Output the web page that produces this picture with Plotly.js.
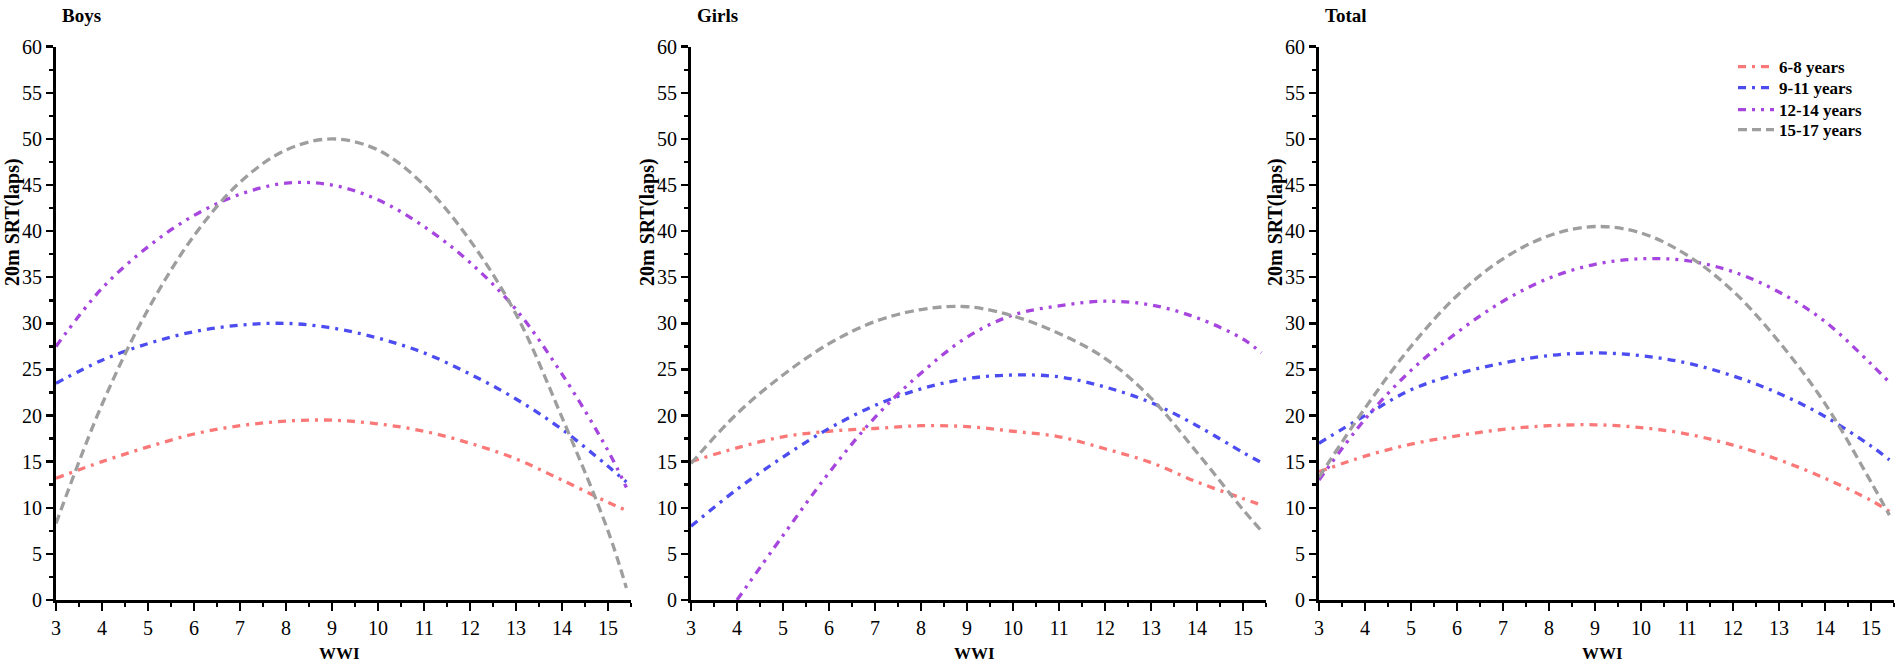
<!DOCTYPE html>
<html>
<head>
<meta charset="utf-8">
<script src="https://cdn.plot.ly/plotly-3.0.1.min.js"></script>
<style>
  html, body { margin: 0; padding: 0; background: #ffffff; }
  #chart { width: 1902px; height: 665px; }
</style>
</head>
<body>
<div id="chart"></div>
<script>
// WWI positions where each curve was read
const wwi = [3, 4, 5, 6, 7, 8, 9, 10, 11, 12, 13, 14, 15, 15.4];
const wwiFrom4 = [4, 5, 6, 7, 8, 9, 10, 11, 12, 13, 14, 15, 15.4];

const groups = ['6-8 years', '9-11 years', '12-14 years', '15-17 years'];
const panels = ['Boys', 'Girls', 'Total'];

// Boys
const boys_6_8   = [13.2, 15.0, 16.6, 18.0, 18.9, 19.4, 19.5, 19.1, 18.3, 17.0, 15.3, 13.0, 10.6, 9.7];
const boys_9_11  = [23.5, 26.0, 27.8, 29.1, 29.8, 30.0, 29.5, 28.4, 26.8, 24.5, 21.8, 18.5, 14.5, 12.8];
const boys_12_14 = [27.5, 33.8, 38.3, 41.7, 44.0, 45.2, 45.0, 43.4, 40.5, 36.6, 31.5, 24.5, 16.2, 12.2];
const boys_15_17 = [8.3, 21.2, 31.5, 39.5, 45.3, 48.8, 50.0, 48.8, 45.0, 39.0, 31.0, 19.8, 7.5, 1.3];

// Girls
const girls_6_8   = [15.0, 16.5, 17.7, 18.3, 18.6, 18.9, 18.8, 18.3, 17.7, 16.4, 14.9, 12.8, 11.0, 10.3];
const girls_9_11  = [8.0, 12.0, 15.5, 18.6, 21.1, 22.9, 24.0, 24.4, 24.2, 23.1, 21.4, 18.9, 16.0, 14.9];
const girls_12_14 = [0.0, 7.0, 13.8, 19.8, 24.6, 28.5, 30.9, 31.9, 32.4, 32.0, 30.6, 28.3, 26.8]; // starts at WWI 4
const girls_15_17 = [14.8, 20.2, 24.4, 27.8, 30.2, 31.5, 31.8, 30.8, 28.9, 26.2, 21.9, 16.0, 9.8, 7.5];

// Total
const total_6_8   = [13.9, 15.6, 16.9, 17.8, 18.5, 18.9, 19.0, 18.7, 18.0, 16.8, 15.2, 13.2, 10.8, 9.6];
const total_9_11  = [17.0, 20.0, 22.8, 24.5, 25.7, 26.5, 26.8, 26.5, 25.7, 24.3, 22.4, 19.9, 16.7, 15.2];
const total_12_14 = [13.0, 19.6, 24.9, 29.0, 32.4, 34.9, 36.4, 37.0, 36.8, 35.6, 33.4, 30.2, 25.6, 23.6];
const total_15_17 = [13.3, 20.8, 27.5, 33.0, 37.0, 39.5, 40.5, 39.8, 37.4, 33.5, 28.0, 21.3, 12.8, 9.2];

const yTicks = [0, 5, 10, 15, 20, 25, 30, 35, 40, 45, 50, 55, 60];
const xTicks = [3, 4, 5, 6, 7, 8, 9, 10, 11, 12, 13, 14, 15];

const styles = [
  { color: 'rgb(250,120,120)', dash: '8px,6px,3px,6px' },
  { color: 'rgb(76,76,240)',   dash: '8px,6px,3px,6px' },
  { color: 'rgb(166,70,222)',  dash: '8px,6px,3px,6px,3px,6px' },
  { color: 'rgb(158,158,158)', dash: '9px,5px' }
];

const panelData = [
  [boys_6_8, boys_9_11, boys_12_14, boys_15_17],
  [girls_6_8, girls_9_11, girls_12_14, girls_15_17],
  [total_6_8, total_9_11, total_12_14, total_15_17]
];

const legendIds = ['legend', 'legend2', 'legend3', 'legend4'];

const traces = [];
panelData.forEach((series, p) => {
  series.forEach((ys, g) => {
    const xs = ys.length === wwi.length ? wwi : wwiFrom4;
    traces.push({
      type: 'scatter', mode: 'lines',
      x: xs, y: ys,
      name: groups[g],
      showlegend: p === 2,
      legend: legendIds[g],
      xaxis: p === 0 ? 'x' : 'x' + (p + 1),
      yaxis: p === 0 ? 'y' : 'y' + (p + 1),
      line: { color: styles[g].color, dash: styles[g].dash, width: 3.3, shape: 'spline', smoothing: 1 },
      hoverinfo: 'skip'
    });
  });
});

const W = 1902, H = 665;
const serif = 'Liberation Serif, Times New Roman, serif';
const xDomains = [[56, 631], [691, 1266], [1319, 1894]];
const yDom = [(H - 600) / H, (H - 46.7) / H];

function xAxis(p) {
  return {
    domain: [xDomains[p][0] / W, xDomains[p][1] / W],
    range: [3, 15.5], anchor: p === 0 ? 'y' : 'y' + (p + 1),
    tickmode: 'array', tickvals: xTicks, ticktext: xTicks.map(String),
    ticks: 'outside', ticklen: 8, tickwidth: 2.5, tickcolor: '#000',
    minor: { dtick: 0.5, tick0: 3, ticks: 'outside', ticklen: 4, tickwidth: 2.5, tickcolor: '#000' },
    showline: true, linecolor: '#000', linewidth: 3,
    showgrid: false, zeroline: false, fixedrange: true,
    tickfont: { family: serif, size: 20, color: '#000' }
  };
}
function yAxis(p) {
  return {
    domain: yDom, range: [0, 60], anchor: p === 0 ? 'x' : 'x' + (p + 1),
    tickmode: 'array', tickvals: yTicks, ticktext: yTicks.map(String),
    ticks: 'outside', ticklen: 7, tickwidth: 2.5, tickcolor: '#000',
    minor: { dtick: 2.5, tick0: 0, ticks: 'outside', ticklen: 4, tickwidth: 2.5, tickcolor: '#000' },
    showline: true, linecolor: '#000', linewidth: 3,
    showgrid: false, zeroline: false, fixedrange: true,
    tickfont: { family: serif, size: 20, color: '#000' }
  };
}

const annotations = [];
panels.forEach((name, p) => {
  annotations.push({
    text: name, xref: 'paper', yref: 'paper',
    x: (xDomains[p][0] + 4) / W, y: (H - 15) / H, xanchor: 'left', yanchor: 'middle',
    showarrow: false, font: { family: serif, size: 19, color: '#000', weight: 'bold' }
  });
  annotations.push({
    text: '20m SRT(laps)', xref: 'paper', yref: 'paper', textangle: -90,
    x: (xDomains[p][0] - 43) / W, y: (H - 222) / H, xanchor: 'center', yanchor: 'middle',
    showarrow: false, font: { family: serif, size: 20, color: '#000', weight: 'bold' }
  });
  annotations.push({
    text: 'WWI', xref: 'paper', yref: 'paper',
    x: ((xDomains[p][0] + xDomains[p][1]) / 2 - 4) / W, y: (H - 653) / H, xanchor: 'center', yanchor: 'middle',
    showarrow: false, font: { family: serif, size: 17, color: '#000', weight: 'bold' }
  });
});

// one single-entry legend per age group so the rows can sit at the reference spacing
const legendRowsY = [67, 88, 110, 130];
function legendBox(i) {
  return {
    x: 1733 / W, y: (H - legendRowsY[i]) / H, xanchor: 'left', yanchor: 'middle',
    bgcolor: 'rgba(0,0,0,0)', borderwidth: 0, itemwidth: 36,
    font: { family: serif, size: 17, color: '#000', weight: 'bold' }
  };
}

const layout = {
  width: W, height: H,
  margin: { l: 0, r: 0, t: 0, b: 0 },
  paper_bgcolor: '#fff', plot_bgcolor: '#fff',
  showlegend: true,
  legend: legendBox(0), legend2: legendBox(1), legend3: legendBox(2), legend4: legendBox(3),
  annotations: annotations,
  xaxis: xAxis(0), xaxis2: xAxis(1), xaxis3: xAxis(2),
  yaxis: yAxis(0), yaxis2: yAxis(1), yaxis3: yAxis(2)
};

Plotly.newPlot('chart', traces, layout, { displayModeBar: false, staticPlot: true });
</script>
</body>
</html>
